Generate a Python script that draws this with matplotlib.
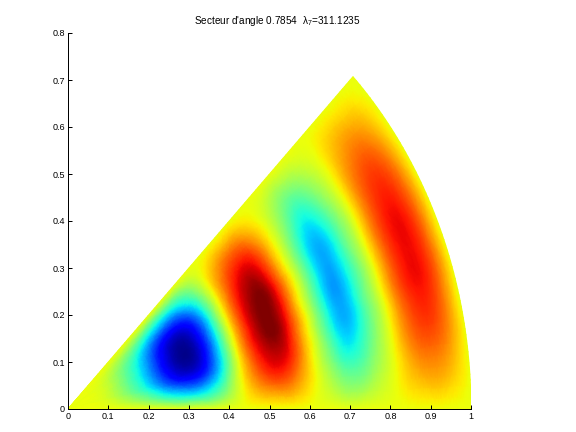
import numpy as np
import matplotlib
matplotlib.use('Agg')
import matplotlib.pyplot as plt
import matplotlib.tri as mtri

plt.rcParams['font.family'] = ['Liberation Sans', 'DejaVu Sans']
plt.rcParams['mathtext.fontset'] = 'custom'
plt.rcParams['mathtext.rm'] = 'Liberation Sans'
plt.rcParams['mathtext.it'] = 'Liberation Sans'

# values, one row per radius, columns go from the
# lower edge of the sector to its middle line (the other half is the mirror)
radii = [0.00, 0.04, 0.08, 0.12, 0.16, 0.20, 0.24, 0.28, 0.32, 0.36, 0.40, 0.44, 0.48,
         0.52, 0.56, 0.60, 0.64, 0.68, 0.72, 0.76, 0.80, 0.84, 0.88, 0.92, 0.96, 1.00]
half_field = [
    [0, 0.000, 0.000, 0.000, 0.000],
    [0, 0.000, -0.001, -0.001, -0.001],
    [0, -0.004, -0.007, -0.009, -0.009],
    [0, -0.022, -0.039, -0.048, -0.050],
    [0, -0.055, -0.098, -0.120, -0.125],
    [0, -0.097, -0.172, -0.211, -0.220],
    [0, -0.150, -0.265, -0.326, -0.340],
    [0, -0.191, -0.339, -0.418, -0.435],
    [0, -0.202, -0.359, -0.442, -0.460],
    [0, -0.167, -0.296, -0.365, -0.380],
    [0, -0.084, -0.148, -0.182, -0.190],
    [0, 0.013, 0.023, 0.029, 0.030],
    [0, 0.084, 0.148, 0.182, 0.190],
    [0, 0.119, 0.211, 0.259, 0.270],
    [0, 0.103, 0.183, 0.226, 0.235],
    [0, 0.037, 0.066, 0.082, 0.085],
    [0, -0.029, -0.051, -0.062, -0.065],
    [0, -0.092, -0.164, -0.202, -0.210],
    [0, -0.114, -0.203, -0.250, -0.260],
    [0, -0.073, -0.129, -0.158, -0.165],
    [0, -0.022, -0.039, -0.048, -0.050],
    [0, 0.035, 0.062, 0.077, 0.080],
    [0, 0.077, 0.137, 0.168, 0.175],
    [0, 0.086, 0.152, 0.187, 0.195],
    [0, 0.055, 0.098, 0.120, 0.125],
    [0, 0.000, 0.000, 0.000, 0.000],
]
sector_angle = 0.7854
title_text = "Secteur d'angle 0.7854  $\\lambda_7$=311.1235"
x_ticks = [0, 0.1, 0.2, 0.3, 0.4, 0.5, 0.6, 0.7, 0.8, 0.9, 1]
y_ticks = [0, 0.1, 0.2, 0.3, 0.4, 0.5, 0.6, 0.7, 0.8]
x_labels = ['0', '0.1', '0.2', '0.3', '0.4', '0.5', '0.6', '0.7', '0.8', '0.9', '1']
y_labels = ['0', '0.1', '0.2', '0.3', '0.4', '0.5', '0.6', '0.7', '0.8']

half = np.array(half_field)
field = np.hstack([half, half[:, -2::-1]])
angles = np.linspace(0, sector_angle, field.shape[1])
rr, tt = np.meshgrid(radii, angles, indexing='ij')

# refine in (r, angle) so the outer edge stays a real arc
polar_tri = mtri.Triangulation(rr.ravel(), tt.ravel())
fine_polar, fine_z = mtri.UniformTriRefiner(polar_tri).refine_field(field.ravel(), subdiv=3)
fine_x = fine_polar.x * np.cos(fine_polar.y)
fine_y = fine_polar.x * np.sin(fine_polar.y)

fig = plt.figure(figsize=(8, 6), dpi=72)
ax = fig.add_axes([68 / 576, 23 / 432, 403 / 576, 376 / 432])
ax.tripcolor(fine_x, fine_y, fine_polar.triangles, fine_z, shading='gouraud',
             cmap='jet', vmin=-0.47, vmax=0.27)

ax.set_xlim(0, 1)
ax.set_ylim(0, 0.8)
ax.set_xticks(x_ticks)
ax.set_xticklabels(x_labels)
ax.set_yticks(y_ticks)
ax.set_yticklabels(y_labels)
ax.tick_params(direction='in', length=4, width=1, labelsize=9, pad=3)
ax.spines['top'].set_visible(False)
ax.spines['right'].set_visible(False)
ax.spines['left'].set_linewidth(1)
ax.spines['bottom'].set_linewidth(1)
ax.set_title(title_text, fontsize=10, pad=9, x=0.52)

fig.savefig('out.png', dpi=72)
